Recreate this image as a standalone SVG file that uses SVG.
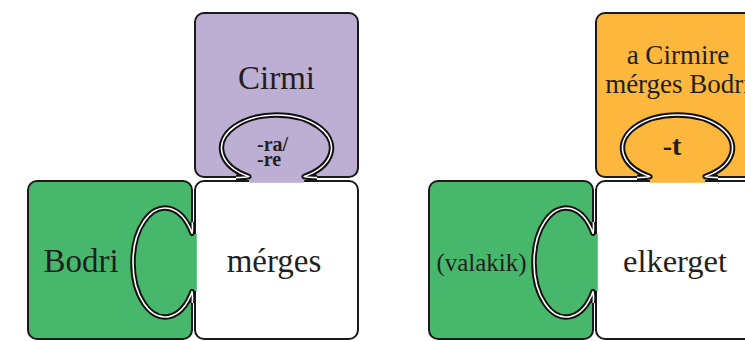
<svg xmlns="http://www.w3.org/2000/svg" width="745" height="341" viewBox="0 0 745 341">
<style>
.piece{stroke:#1a1a1a;stroke-width:2}
.green{fill:#47b86b}
.purple{fill:#bdaed3}
.orange{fill:#fcb73c}
.white{fill:#ffffff}
.bo{stroke:#111;stroke-width:5.5;fill:none;stroke-linejoin:round}
.bi{stroke:#fff;stroke-width:1.6;fill:none;stroke-linejoin:round}
.t{font-family:"Liberation Serif","Times New Roman",serif;fill:#231f20}
.b{font-weight:bold}
</style>
<defs>
  <path id="vtab" d="M192.3,222 Q192.8,230 192,233.3 A32,54.5 0 1 0 192,291.7 Q192.8,295 192.3,303"/>
  <path id="htab" d="M236,177.6 Q245,177.6 248.8,176.5 A55,33 0 1 1 304.2,176.5 Q308,177.6 317,177.6"/>
</defs>
<rect width="745" height="341" fill="#fff"/>
<g id="left">
  <g id="bodri">
    <rect class="piece green" x="28" y="181" width="164" height="158" rx="9"/>
  </g>
  <g id="cirmi">
    <rect class="piece purple" x="195" y="13" width="163" height="164" rx="9"/>
  </g>
  <g id="merges">
    <rect class="piece white" x="195" y="181" width="163" height="158" rx="9"/>
  </g>
  <g id="bodri-tab">
    <rect class="green" x="190" y="234" width="6.8" height="57"/>
    <path class="green" d="M192,233.3 A32,54.5 0 1 0 192,291.7 Z"/>
    <use href="#vtab" class="bo"/>
    <use href="#vtab" class="bi"/>
  </g>
  <g id="cirmi-tab">
    <rect class="purple" x="249" y="175.5" width="55" height="7.3"/>
    <path class="purple" d="M248.8,176.5 A55,33 0 1 1 304.2,176.5 Z"/>
    <use href="#htab" class="bo"/>
    <use href="#htab" class="bi"/>
  </g>
  <text class="t" x="276.5" y="89" font-size="33" text-anchor="middle">Cirmi</text>
  <text class="t b" x="257" y="151" font-size="20">-ra/</text>
  <text class="t b" x="257" y="166" font-size="20">-re</text>
  <text class="t" x="81" y="272" font-size="33" text-anchor="middle">Bodri</text>
  <text class="t" x="274" y="272" font-size="33" text-anchor="middle">mérges</text>
</g>
<g id="right" transform="translate(401 0)">
  <g id="valakik">
    <rect class="piece green" x="28" y="181" width="164" height="158" rx="9"/>
  </g>
  <g id="cirmire">
    <rect class="piece orange" x="195" y="13" width="163" height="164" rx="9"/>
  </g>
  <g id="elkerget">
    <rect class="piece white" x="195" y="181" width="163" height="158" rx="9"/>
  </g>
  <g id="valakik-tab">
    <rect class="green" x="190" y="234" width="6.8" height="57"/>
    <path class="green" d="M192,233.3 A32,54.5 0 1 0 192,291.7 Z"/>
    <use href="#vtab" class="bo"/>
    <use href="#vtab" class="bi"/>
  </g>
  <g id="cirmire-tab">
    <rect class="orange" x="249" y="175.5" width="55" height="7.3"/>
    <path class="orange" d="M248.8,176.5 A55,33 0 1 1 304.2,176.5 Z"/>
    <use href="#htab" class="bo"/>
    <use href="#htab" class="bi"/>
  </g>
  <text class="t" x="277" y="64" font-size="27" text-anchor="middle">a Cirmire</text>
  <text class="t" x="277" y="93" font-size="27" text-anchor="middle">mérges Bodri</text>
  <text class="t b" x="271" y="155" font-size="28" text-anchor="middle">-t</text>
  <text class="t" x="80.5" y="271" font-size="25" text-anchor="middle">(valakik)</text>
  <text class="t" x="274" y="272" font-size="32.5" text-anchor="middle">elkerget</text>
</g>
</svg>
